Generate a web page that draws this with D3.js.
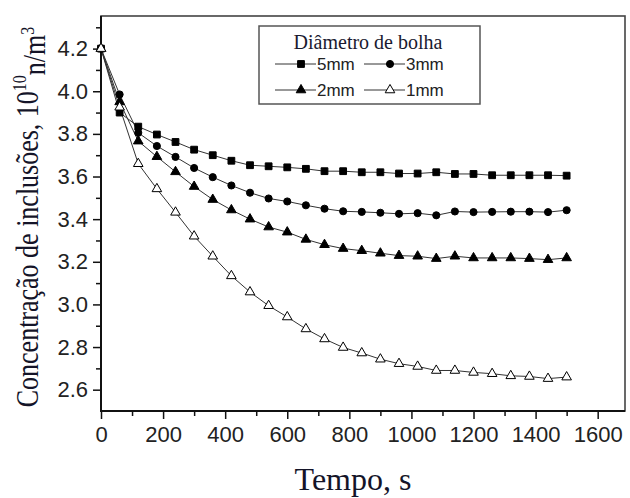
<!DOCTYPE html>
<html>
<head>
<meta charset="utf-8">
<script src="https://cdn.jsdelivr.net/npm/d3@7/dist/d3.min.js"></script>
<style>
body{margin:0;background:#fff;}
svg{display:block;}
.tick text{font-family:"Liberation Sans",Arial,sans-serif;font-size:22px;fill:#222;}
.tick line{stroke:#111;stroke-width:1.5;}
</style>
</head>
<body>
<svg id="graf" width="630" height="498"></svg>
<script>
// Datos: tiempo (s) y concentracion (10^10 n/m3) por diametro de burbuja
var tiempos = [0,60,120,180,240,300,360,420,480,540,600,660,720,780,840,900,960,1020,1080,1140,1200,1260,1320,1380,1440,1500];
var d5mm = [4.20,3.90,3.834,3.797,3.762,3.726,3.700,3.674,3.653,3.648,3.643,3.636,3.625,3.625,3.620,3.620,3.614,3.614,3.620,3.612,3.612,3.606,3.606,3.606,3.606,3.604];
var d3mm = [4.20,3.985,3.805,3.743,3.692,3.640,3.597,3.558,3.524,3.497,3.483,3.465,3.449,3.437,3.434,3.430,3.425,3.428,3.418,3.436,3.433,3.434,3.435,3.435,3.433,3.442];
var d2mm = [4.20,3.950,3.766,3.693,3.622,3.553,3.492,3.443,3.400,3.363,3.339,3.305,3.280,3.262,3.252,3.240,3.229,3.226,3.215,3.226,3.218,3.218,3.218,3.215,3.210,3.218];
var d1mm = [4.20,3.925,3.660,3.542,3.432,3.320,3.226,3.134,3.058,2.994,2.941,2.885,2.838,2.798,2.772,2.743,2.722,2.709,2.690,2.690,2.681,2.675,2.665,2.662,2.652,2.659];
var nombres = ["5mm","3mm","2mm","1mm"];

var ticksX = [0,200,400,600,800,1000,1200,1400,1600];
var menoresX = [100,300,500,700,900,1100,1300,1500];
var ticksY = [2.6,2.8,3.0,3.2,3.4,3.6,3.8,4.0,4.2];
var menoresY = [2.7,2.9,3.1,3.3,3.5,3.7,3.9,4.1,4.3];

var area = {izq:101, der:625, sup:16, inf:411};
var svg = d3.select("#graf");

function escala(dom,rango){
	return d3.scaleLinear().domain(dom).range(rango);
}

function eje(o,esc,valores,largo,pad,formato){
	var axis = (o == 'b' ? d3.axisBottom(esc) : d3.axisLeft(esc));
	return axis
		.tickValues(valores)
		.tickSize(largo)
		.tickSizeOuter(0)
		.tickPadding(pad)
		.tickFormat(formato || "");
}

var sx = escala([0,1688],[area.izq,area.der]);
var sy = escala([2.5,4.353],[area.inf,area.sup]);

// ejes (menores y mayores hacia afuera)
function ponEje(o,axis){
	var g = svg.append("g")
		.attr("transform", o == 'b' ? "translate(0,"+area.inf+")" : "translate("+area.izq+",0)")
		.call(axis);
	g.select(".domain").remove();
	return g;
}
ponEje('b',eje('b',sx,menoresX,5,0));
ponEje('b',eje('b',sx,ticksX,8,7,d3.format("d")));
ponEje('l',eje('l',sy,menoresY,5,0));
ponEje('l',eje('l',sy,ticksY,8,5,d3.format(".1f")));

// marco
svg.append("rect")
	.attr("x",area.izq).attr("y",area.sup)
	.attr("width",area.der-area.izq).attr("height",area.inf-area.sup)
	.attr("fill","none").attr("stroke","#444").attr("stroke-width",1.6);
svg.append("path")
	.attr("d","M"+area.izq+","+area.sup+"V"+area.inf+"H"+area.der)
	.attr("fill","none").attr("stroke","#111").attr("stroke-width",2);

var series = [
	{nombre:nombres[0], valores:d5mm, simbolo:d3.symbolSquare, tam:46, relleno:"#000"},
	{nombre:nombres[1], valores:d3mm, simbolo:d3.symbolCircle, tam:40, relleno:"#000"},
	{nombre:nombres[2], valores:d2mm, simbolo:d3.symbolTriangle, tam:40, relleno:"#000"},
	{nombre:nombres[3], valores:d1mm, simbolo:d3.symbolTriangle, tam:40, relleno:"#fff"}
];

var linea = d3.line()
	.x(function(d,i){return sx(tiempos[i]);})
	.y(function(d){return sy(d);});

series.forEach(function(s){
	svg.append("path")
		.attr("d",linea(s.valores))
		.attr("fill","none").attr("stroke","#333").attr("stroke-width",1);
});

series.forEach(function(s){
	var sim = d3.symbol().type(s.simbolo).size(s.tam);
	svg.append("g").selectAll("path")
		.data(s.valores)
		.enter().append("path")
		.attr("d",sim)
		.attr("transform",function(d,i){return "translate("+sx(tiempos[i])+","+sy(d)+")";})
		.attr("fill",s.relleno)
		.attr("stroke","#000")
		.attr("stroke-width",1);
});

// leyenda
var ley = svg.append("g");
ley.append("rect")
	.attr("x",259).attr("y",26).attr("width",221).attr("height",78)
	.attr("fill","#fff").attr("stroke","#555").attr("stroke-width",1.5);
ley.append("text")
	.attr("x",368).attr("y",49)
	.attr("text-anchor","middle")
	.style("font-family","'Liberation Serif','Times New Roman',serif")
	.style("font-size","20px").style("fill","#1a1a30")
	.text("Diâmetro de bolha");

var cols = [275,364], filas = [64,90];
series.forEach(function(s,i){
	var x0 = cols[i%2], y0 = filas[Math.floor(i/2)];
	ley.append("line")
		.attr("x1",x0).attr("x2",x0+41).attr("y1",y0).attr("y2",y0)
		.attr("stroke","#333").attr("stroke-width",1);
	ley.append("path")
		.attr("d",d3.symbol().type(s.simbolo).size(s.tam)())
		.attr("transform","translate("+(x0+26)+","+y0+")")
		.attr("fill",s.relleno).attr("stroke","#000").attr("stroke-width",1);
	ley.append("text")
		.attr("x",x0+42).attr("y",y0+6)
		.style("font-family","'Liberation Sans',Arial,sans-serif")
		.style("font-size","17px").style("fill","#222")
		.text(s.nombre);
});

// titulos de ejes
svg.append("text")
	.attr("x",353).attr("y",490)
	.attr("text-anchor","middle")
	.style("font-family","'Liberation Serif','Times New Roman',serif")
	.style("font-size","32px").style("fill","#141428")
	.text("Tempo, s");

var ty = svg.append("text")
	.attr("transform","translate(38,217) rotate(-90) scale(1,1.2)")
	.attr("text-anchor","middle")
	.style("font-family","'Liberation Serif','Times New Roman',serif")
	.style("font-size","26px").style("fill","#141428");
ty.append("tspan").text("Concentração de inclusões, 10");
ty.append("tspan").attr("dy","-0.6em").style("font-size","16px").text("10");
ty.append("tspan").attr("dy","0.6em").text("n/m");
ty.append("tspan").attr("dy","-0.6em").style("font-size","16px").text("3");
</script>
</body>
</html>
